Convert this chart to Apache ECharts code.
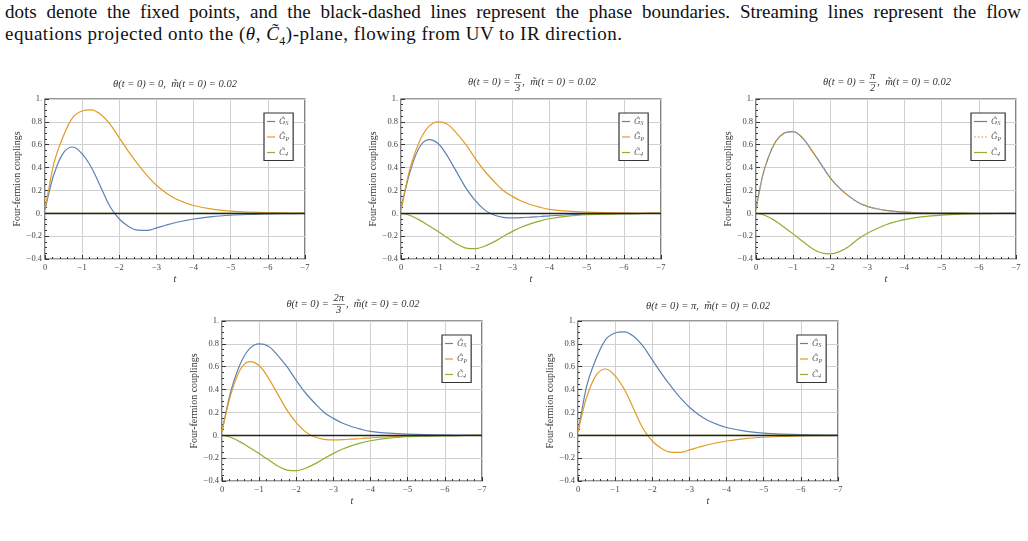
<!DOCTYPE html>
<html>
<head>
<meta charset="utf-8">
<script src="https://cdn.jsdelivr.net/npm/echarts@6/dist/echarts.min.js"></script>
<style>
body { margin: 0; background: #fff; }
.cap { position: absolute; left: 5px; width: 1016px; font-family: "Liberation Serif", serif; font-size: 19px; letter-spacing: 0.5px; line-height: 22px; color: #111; white-space: nowrap; }
#cap1 { top: 1px; text-align: justify; text-align-last: justify; white-space: normal; letter-spacing: 0; }
#cap2 { top: 23px; }
#chart { position: absolute; left: 0; top: 0; width: 1028px; height: 541px; }
</style>
</head>
<body>
<div id="cap1" class="cap">dots denote the fixed points, and the black-dashed lines represent the phase boundaries. Streaming lines represent the flow</div>
<div id="cap2" class="cap">equations projected onto the (<i>θ</i>, <i>C̃</i><sub style="font-size:12px">4</sub>)-plane, flowing from UV to IR direction.</div>
<div id="chart"></div>
<script>
// RG time samples (t runs from 0 down to -7)
const tVals = [0, -0.1, -0.25, -0.5, -0.75, -1, -1.25, -1.5, -1.75, -2, -2.25, -2.5, -2.75, -3, -3.25, -3.5, -3.75, -4, -4.5, -5, -5.5, -6, -6.5, -7]

// curves
const peak058 = [0.03, 0.17, 0.35, 0.53, 0.58, 0.52, 0.40, 0.23, 0.06, -0.05, -0.115, -0.148, -0.15, -0.128, -0.105, -0.083, -0.065, -0.05, -0.029, -0.017, -0.01, -0.005, -0.003, -0.001]
const peak090 = [0.03, 0.21, 0.45, 0.68, 0.84, 0.895, 0.905, 0.865, 0.78, 0.66, 0.54, 0.43, 0.33, 0.245, 0.18, 0.13, 0.095, 0.068, 0.036, 0.019, 0.01, 0.005, 0.003, 0.001]
const peak064 = [0.03, 0.18, 0.37, 0.58, 0.645, 0.61, 0.50, 0.36, 0.22, 0.11, 0.03, -0.015, -0.035, -0.04, -0.038, -0.033, -0.028, -0.022, -0.013, -0.008, -0.005, -0.003, -0.002, -0.001]
const peak080 = [0.03, 0.19, 0.40, 0.63, 0.76, 0.80, 0.78, 0.70, 0.60, 0.48, 0.37, 0.28, 0.20, 0.148, 0.105, 0.075, 0.052, 0.035, 0.019, 0.01, 0.005, 0.003, 0.002, 0.001]
const peak071 = [0.03, 0.21, 0.41, 0.61, 0.70, 0.715, 0.66, 0.55, 0.43, 0.31, 0.22, 0.15, 0.095, 0.06, 0.04, 0.025, 0.016, 0.01, 0.004, 0.002, 0.001, 0, 0, 0]
const c4Dip031 = [0, -0.005, -0.02, -0.06, -0.11, -0.16, -0.215, -0.268, -0.305, -0.31, -0.288, -0.25, -0.203, -0.158, -0.12, -0.09, -0.066, -0.048, -0.025, -0.013, -0.007, -0.003, -0.002, -0.001]
const c4Dip036 = [0, -0.005, -0.02, -0.062, -0.12, -0.18, -0.245, -0.305, -0.345, -0.355, -0.335, -0.29, -0.225, -0.175, -0.135, -0.10, -0.075, -0.055, -0.03, -0.016, -0.008, -0.004, -0.002, -0.001]
const c4Zero = [0, 0, 0, 0, 0, 0, 0, 0, 0, 0, 0, 0, 0, 0, 0, 0, 0, 0, 0, 0, 0, 0, 0, 0]

// theta(t=0) per panel, [numerator, denominator] when it is a fraction
const thetaLabels = ['0', ['π', '3'], ['π', '2'], ['2π', '3'], 'π']
const gsCurves = [peak058, peak064, peak071, peak080, peak090]
const gpCurves = [peak090, peak080, peak071, peak064, peak058]
const c4Curves = [c4Zero, c4Dip031, c4Dip036, c4Dip031, c4Zero]

const xTicks = [0, -1, -2, -3, -4, -5, -6, -7]
const yTicks = [-0.4, -0.2, 0, 0.2, 0.4, 0.6, 0.8, 1]

// layout
const boxes = [
	{ left: 45, top: 99, legendLeft: 264 },
	{ left: 401, top: 99, legendLeft: 619 },
	{ left: 756, top: 99, legendLeft: 971 },
	{ left: 222, top: 321, legendLeft: 442 },
	{ left: 578, top: 321, legendLeft: 797 }
]
const W = 260, H = 160
const BLUE = '#5e81b5', ORANGE = '#e19c24', GREEN = '#8fb032'
const SERIF = 'Liberation Serif'
const DOTTED_ICON = 'path://M0,0H2V1H0Z M4,0H6V1H4Z M8,0H10V1H8Z M12,0H14V1H12Z'

const chart = echarts.init(document.getElementById('chart'))

const measureCtx = document.createElement('canvas').getContext('2d')
function textW(s, size) {
	measureCtx.font = 'italic ' + size + 'px ' + SERIF
	return measureCtx.measureText(s).width
}

function titleGraphic(i) {
	const b = boxes[i]
	const cx = b.left + W / 2
	const lab = thetaLabels[i]
	const fs = 10.5
	const tail = ',  m̃(t = 0) = 0.02'
	const txt = (s, x, y, align) => ({
		type: 'text', x: x, y: y,
		style: { text: s, font: 'italic ' + fs + 'px ' + SERIF, fill: '#333', textAlign: align || 'left', textVerticalAlign: 'middle' }
	})
	if (typeof lab === 'string') {
		return [txt('θ(t = 0) = ' + lab + tail, cx, b.top - 15, 'center')]
	}
	const cy = b.top - 17
	const pre = 'θ(t = 0) = '
	const wPre = textW(pre, fs)
	const wFrac = Math.max(textW(lab[0], fs), textW(lab[1], fs)) + 2
	const wTail = textW(tail, fs)
	const x0 = cx - (wPre + wFrac + wTail) / 2
	const xf = x0 + wPre + wFrac / 2 + 1
	return [
		txt(pre, x0, cy),
		txt(lab[0], xf, cy - 5.5, 'center'),
		{ type: 'line', shape: { x1: xf - wFrac / 2, y1: cy + 0.5, x2: xf + wFrac / 2, y2: cy + 0.5 }, style: { stroke: '#333', lineWidth: 0.6 } },
		txt(lab[1], xf, cy + 6.5, 'center'),
		txt(tail, x0 + wPre + wFrac + 2, cy)
	]
}

const legendNames = {
	GS: '{g|Ĝ}{s|S}',
	GP: '{g|Ĝ}{s|P}',
	C4: '{g|C̃}{s|4}'
}

const grid = [], xAxis = [], yAxis = [], series = [], legend = []
let graphics = []

boxes.forEach((b, i) => {
	grid.push({ left: b.left, top: b.top, width: W, height: H, show: true, borderColor: '#333', borderWidth: 1.2, backgroundColor: 'transparent' })
	xAxis.push({
		gridIndex: i, type: 'value', min: -7, max: 0, interval: 1, inverse: true,
		name: 't', nameLocation: 'middle', nameGap: 15,
		nameTextStyle: { fontFamily: SERIF, fontStyle: 'italic', fontSize: 10, color: '#333' },
		axisLine: { show: false, onZero: false },
		axisTick: { inside: true, length: 4, lineStyle: { color: '#333', width: 1 } },
		minorTick: { show: true, splitNumber: 5, length: 2, lineStyle: { color: '#333', width: 1 } },
		splitLine: { show: true, lineStyle: { color: '#d0d0d0', width: 1 } },
		axisLabel: {
			margin: 4, fontFamily: SERIF, fontSize: 8.5, color: '#444',
			formatter: v => (xTicks.includes(v) ? (v === 0 ? '0' : '−' + Math.abs(v)) : '')
		}
	})
	yAxis.push({
		gridIndex: i, type: 'value', min: -0.4, max: 1, interval: 0.2,
		name: 'Four-fermion couplings', nameLocation: 'middle', nameGap: 23,
		nameTextStyle: { fontFamily: SERIF, fontSize: 10, color: '#333' },
		axisLine: { show: false, onZero: false },
		axisTick: { inside: true, length: 4, lineStyle: { color: '#333', width: 1 } },
		minorTick: { show: true, splitNumber: 4, length: 2, lineStyle: { color: '#333', width: 1 } },
		splitLine: { show: true, lineStyle: { color: '#d0d0d0', width: 1 } },
		axisLabel: {
			margin: 3, fontFamily: SERIF, fontSize: 8.5, color: '#444',
			formatter: v => {
				const r = Math.round(v * 10) / 10
				if (!yTicks.some(y => Math.abs(y - r) < 1e-9)) return ''
				if (r === 1) return '1.'
				if (r === 0) return '0.'
				return (r < 0 ? '−' : '') + Math.abs(r).toFixed(1)
			}
		}
	})
	const mk = (key, arr, color, dotted) => ({
		name: key + '_' + i, type: 'line', xAxisIndex: i, yAxisIndex: i,
		data: tVals.map((t, k) => [t, arr[k]]),
		symbol: 'none', smooth: 0.35, color: color,
		lineStyle: { color: color, width: 1.2, type: dotted ? [2, 2] : 'solid' },
		silent: true, animation: false
	})
	const gsS = mk('GS', gsCurves[i], BLUE, false)
	gsS.markLine = {
		silent: true, symbol: 'none', label: { show: false },
		lineStyle: { color: '#222', width: 1.3, type: 'solid' },
		data: [{ yAxis: 0 }]
	}
	series.push(gsS)
	series.push(mk('GP', gpCurves[i], ORANGE, i === 2))
	series.push(mk('C4', c4Curves[i], GREEN, false))
	legend.push({
		data: [
			{ name: 'GS_' + i, icon: 'rect' },
			{ name: 'GP_' + i, icon: i === 2 ? DOTTED_ICON : 'rect' },
			{ name: 'C4_' + i, icon: 'rect' }
		],
		left: b.legendLeft, top: b.top + 14, orient: 'vertical',
		backgroundColor: '#fff', borderColor: '#333', borderWidth: 1.2, borderRadius: 0,
		padding: [4, 4, 3, 3], itemGap: 6,
		itemWidth: i === 2 ? 13 : 8, itemHeight: 1.2,
		selectedMode: false,
		formatter: n => legendNames[n.split('_')[0]],
		textStyle: {
			padding: [0, 0, 0, -1],
			rich: {
				g: { fontFamily: SERIF, fontStyle: 'italic', fontSize: 9, color: '#555' },
				s: { fontFamily: SERIF, fontStyle: 'italic', fontSize: 6, color: '#555', padding: [4, 0, 0, 0] }
			}
		}
	})
	graphics = graphics.concat(titleGraphic(i))
})

chart.setOption({
	animation: false,
	grid: grid,
	xAxis: xAxis,
	yAxis: yAxis,
	legend: legend,
	series: series,
	graphic: graphics
})
</script>
</body>
</html>
